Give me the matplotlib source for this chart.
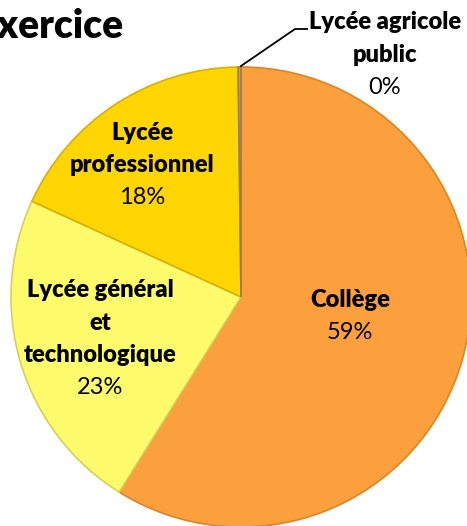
import matplotlib
matplotlib.use("Agg")
import matplotlib.pyplot as plt

categories = ["Collège", "Lycée général\net\ntechnologique", "Lycée\nprofessionnel", "Lycée agricole\npublic"]
values = [59.0, 23.0, 18.0, 0.2]
pct_labels = ["59%", "23%", "18%", "0%"]
title_text = "exercice"

colors = ["#FBA03C", "#FDFB6C", "#FFD502", "#C9A274"]
edges = ["#D98528", "#D8D050", "#D8B000", "#9C7A50"]

W, H = 467, 526
fig = plt.figure(figsize=(W / 100, H / 100), dpi=100)
ax = fig.add_axes([0, 0, 1, 1])

cx, cy, r = 241, H - 297, 230
wedges, _ = ax.pie(values, colors=colors, startangle=90, counterclock=False,
                   center=(cx, cy), radius=r, frame=True,
                   wedgeprops=dict(linewidth=1.2))
for w, ec in zip(wedges, edges):
    w.set_edgecolor(ec)
ax.set_xlim(0, W)
ax.set_ylim(0, H)
ax.set_aspect("equal")
ax.axis("off")

fam = ["Lato", "DejaVu Sans"]
fs = 17
step = 32.5

def label(x, y_top, name, pct):
    lines = name.split("\n")
    y = H - y_top
    for ln in lines:
        ax.text(x, y, ln, ha="center", va="center", fontsize=fs,
                fontweight="heavy", family=fam, color="black")
        y -= step
    ax.text(x, y, pct, ha="center", va="center", fontsize=fs,
            family=fam, color="black")

label(350, 300, categories[0], pct_labels[0])
label(100, 290, categories[1], pct_labels[1])
label(142, 133, categories[2], pct_labels[2])
label(385, 22, categories[3], pct_labels[3])

# leader line for tiny slice
ax.plot([241, 295, 307], [H - 66, H - 29, H - 29], color="black", lw=1.3)

ax.text(123, H - 38, title_text, ha="right", va="baseline", fontsize=28,
        fontweight="heavy", family=fam, color="black")

fig.savefig("out.png", dpi=100)
